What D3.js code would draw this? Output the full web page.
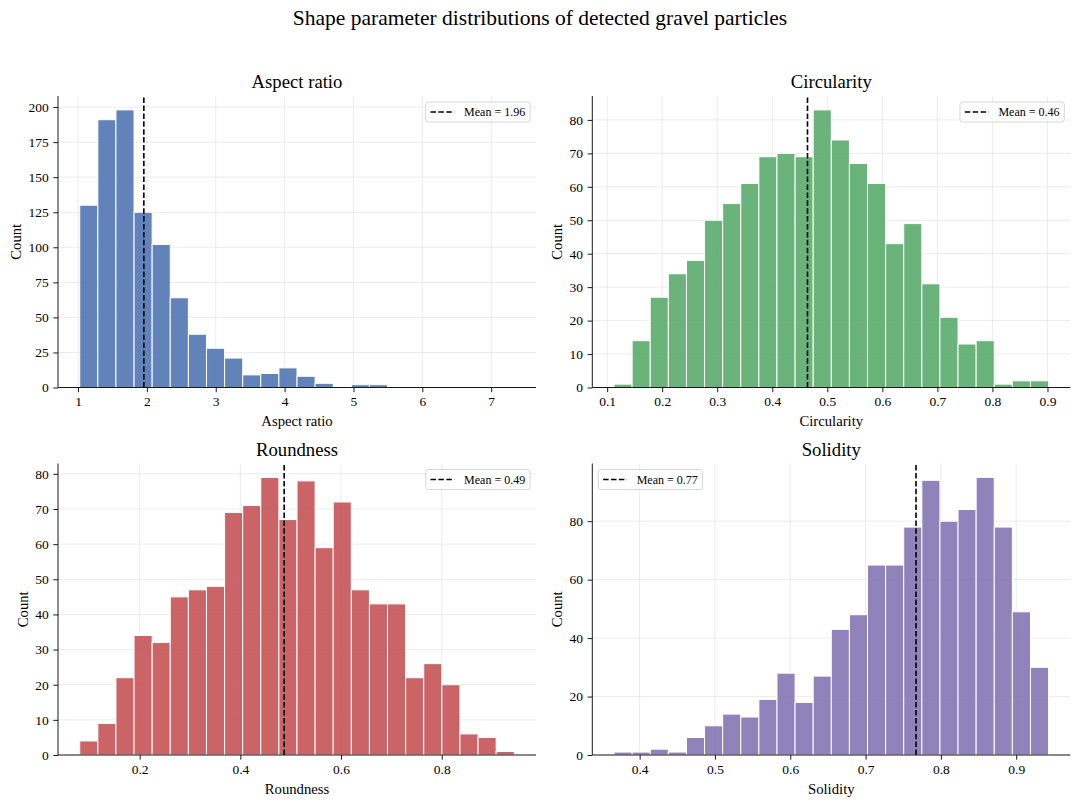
<!DOCTYPE html>
<html>
<head>
<meta charset="utf-8">
<script src="https://d3js.org/d3.v7.min.js"></script>
<style>
  body { margin: 0; background: #fff; }
  svg { display: block; }
  svg text { font-family: "Liberation Serif", "Times New Roman", serif; }
</style>
</head>
<body>
<div id="chart"></div>
<script>
// panel names (also used as x axis labels)
const categories = ["Aspect ratio", "Circularity", "Roundness", "Solidity"]

// histogram counts, 24 bins each
const aspectCounts = [130, 191, 198, 125, 102, 64, 38, 28, 21, 9, 10, 14, 8, 3, 0, 2, 2, 0, 0, 0, 0, 0, 0, 0]
const circularityCounts = [1, 14, 27, 34, 38, 50, 55, 61, 69, 70, 69, 83, 74, 67, 61, 43, 49, 31, 21, 13, 14, 1, 2, 2]
const roundnessCounts = [4, 9, 22, 34, 32, 45, 47, 48, 69, 71, 79, 67, 78, 59, 72, 47, 43, 43, 22, 26, 20, 6, 5, 1]
const solidityCounts = [1, 1, 2, 1, 6, 10, 14, 13, 19, 28, 18, 27, 43, 48, 65, 65, 78, 94, 80, 84, 95, 78, 49, 30]

// first and last bin edge of each histogram
const binLo = [1.025, 0.1125, 0.081, 0.366]
const binHi = [7.335, 0.902, 0.944, 0.943]

// mean of each parameter (dashed line)
const means = [1.956, 0.464, 0.487, 0.767]

// tick labels
const xTicks = [
    [1, 2, 3, 4, 5, 6, 7],
    [0.1, 0.2, 0.3, 0.4, 0.5, 0.6, 0.7, 0.8, 0.9],
    [0.2, 0.4, 0.6, 0.8],
    [0.4, 0.5, 0.6, 0.7, 0.8, 0.9]
]
const yTicks = [
    [0, 25, 50, 75, 100, 125, 150, 175, 200],
    [0, 10, 20, 30, 40, 50, 60, 70, 80],
    [0, 10, 20, 30, 40, 50, 60, 70, 80],
    [0, 20, 40, 60, 80]
]

const allCounts = [aspectCounts, circularityCounts, roundnessCounts, solidityCounts]
const colors = ["#4C72B0", "#55A868", "#C44E52", "#8172B2"]
const legendSide = ["right", "right", "right", "left"]

const serif = "Liberation Serif, Times New Roman, serif"
const width = 1080
const height = 806
const cols = [[58, 536], [592.3, 1070.3]]
const rows = [[96, 387.5], [463.5, 755]]

const svg = d3.select("#chart").append("svg")
    .attr("width", width).attr("height", height)

svg.append("rect").attr("width", width).attr("height", height).attr("fill", "#fff")

svg.append("text")
    .attr("x", width / 2).attr("y", 25)
    .attr("text-anchor", "middle")
    .attr("font-size", 21.5)
    .text("Shape parameter distributions of detected gravel particles")

categories.forEach((name, i) => {
    const [x0, x1] = cols[i % 2]
    const [y0, y1] = rows[Math.floor(i / 2)]
    const counts = allCounts[i]
    const n = counts.length
    const bw = (binHi[i] - binLo[i]) / n
    const span = binHi[i] - binLo[i]

    const x = d3.scaleLinear()
        .domain([binLo[i] - 0.05 * span, binHi[i] + 0.05 * span])
        .range([x0, x1])
    const y = d3.scaleLinear()
        .domain([0, d3.max(counts) * 1.05])
        .range([y1, y0])

    const g = svg.append("g")

    // grid
    g.append("g").selectAll("line").data(xTicks[i]).join("line")
        .attr("x1", d => x(d)).attr("x2", d => x(d))
        .attr("y1", y0).attr("y2", y1)
        .attr("stroke", "#b0b0b0").attr("stroke-opacity", 0.3).attr("stroke-width", 0.8)
    g.append("g").selectAll("line").data(yTicks[i]).join("line")
        .attr("x1", x0).attr("x2", x1)
        .attr("y1", d => y(d)).attr("y2", d => y(d))
        .attr("stroke", "#b0b0b0").attr("stroke-opacity", 0.3).attr("stroke-width", 0.8)

    // bars
    g.append("g").selectAll("rect").data(counts).join("rect")
        .attr("x", (d, j) => x(binLo[i] + j * bw))
        .attr("width", (d, j) => x(binLo[i] + (j + 1) * bw) - x(binLo[i] + j * bw))
        .attr("y", d => y(d))
        .attr("height", d => y(0) - y(d))
        .attr("fill", colors[i]).attr("fill-opacity", 0.88)
        .attr("stroke", "#fff").attr("stroke-width", 1)

    // axes
    const fmt = i === 0 ? d3.format("d") : d3.format(".1f")
    const xAxis = g.append("g")
        .attr("transform", "translate(0," + y1 + ")")
        .call(d3.axisBottom(x).tickValues(xTicks[i]).tickFormat(fmt)
            .tickSize(4.7).tickPadding(4.5).tickSizeOuter(0))
    const yAxis = g.append("g")
        .attr("transform", "translate(" + x0 + ",0)")
        .call(d3.axisLeft(y).tickValues(yTicks[i]).tickFormat(d3.format("d"))
            .tickSize(4.7).tickPadding(4.5).tickSizeOuter(0))
    xAxis.select(".domain").attr("d", "M" + x0 + ",0H" + x1)
    yAxis.select(".domain").attr("d", "M0," + y1 + "V" + y0)
    ;[xAxis, yAxis].forEach(a => {
        a.attr("font-family", serif).attr("font-size", 13.5)
        a.selectAll("text").attr("fill", "#000").style("font-family", serif)
        a.selectAll("line,path").attr("stroke", "#000").attr("stroke-width", 0.9)
    })

    // mean line
    g.append("line")
        .attr("x1", x(means[i])).attr("x2", x(means[i]))
        .attr("y1", y1).attr("y2", y0)
        .attr("stroke", "#000").attr("stroke-width", 1.6)
        .attr("stroke-dasharray", "5.5,2.4")

    // titles and labels
    g.append("text")
        .attr("x", (x0 + x1) / 2).attr("y", y0 - 8)
        .attr("text-anchor", "middle").attr("font-size", 18.7)
        .text(name)
    g.append("text")
        .attr("x", (x0 + x1) / 2).attr("y", y1 + 38.5)
        .attr("text-anchor", "middle").attr("font-size", 14.7)
        .text(name)

    const tickW = d3.max(yAxis.selectAll("text").nodes(), t => t.getComputedTextLength())
    const cx = x0 - 9.2 - tickW - 5.3 - 7
    g.append("text")
        .attr("transform", "translate(" + cx + "," + (y0 + y1) / 2 + ") rotate(-90)")
        .attr("text-anchor", "middle").attr("dy", "0.35em")
        .attr("font-size", 14.7)
        .text("Count")

    // legend
    const leg = g.append("g")
    const label = leg.append("text")
        .attr("font-size", 12).attr("dy", "0.35em")
        .text("Mean = " + means[i].toFixed(2))
    const tw = label.node().getComputedTextLength()
    const boxW = 4.8 + 24 + 9.6 + tw + 4.8
    const boxH = 20
    const bx = legendSide[i] === "right" ? x1 - 6 - boxW : x0 + 6
    const by = y0 + 6
    leg.insert("rect", "text")
        .attr("x", bx).attr("y", by).attr("width", boxW).attr("height", boxH)
        .attr("rx", 2.5)
        .attr("fill", "#fff").attr("fill-opacity", 0.8)
        .attr("stroke", "#ccc").attr("stroke-width", 0.8)
    leg.append("line")
        .attr("x1", bx + 4.8).attr("x2", bx + 28.8)
        .attr("y1", by + boxH / 2).attr("y2", by + boxH / 2)
        .attr("stroke", "#000").attr("stroke-width", 1.6)
        .attr("stroke-dasharray", "5.5,2.4")
    label.attr("x", bx + 38.4).attr("y", by + boxH / 2)
})
</script>
</body>
</html>
